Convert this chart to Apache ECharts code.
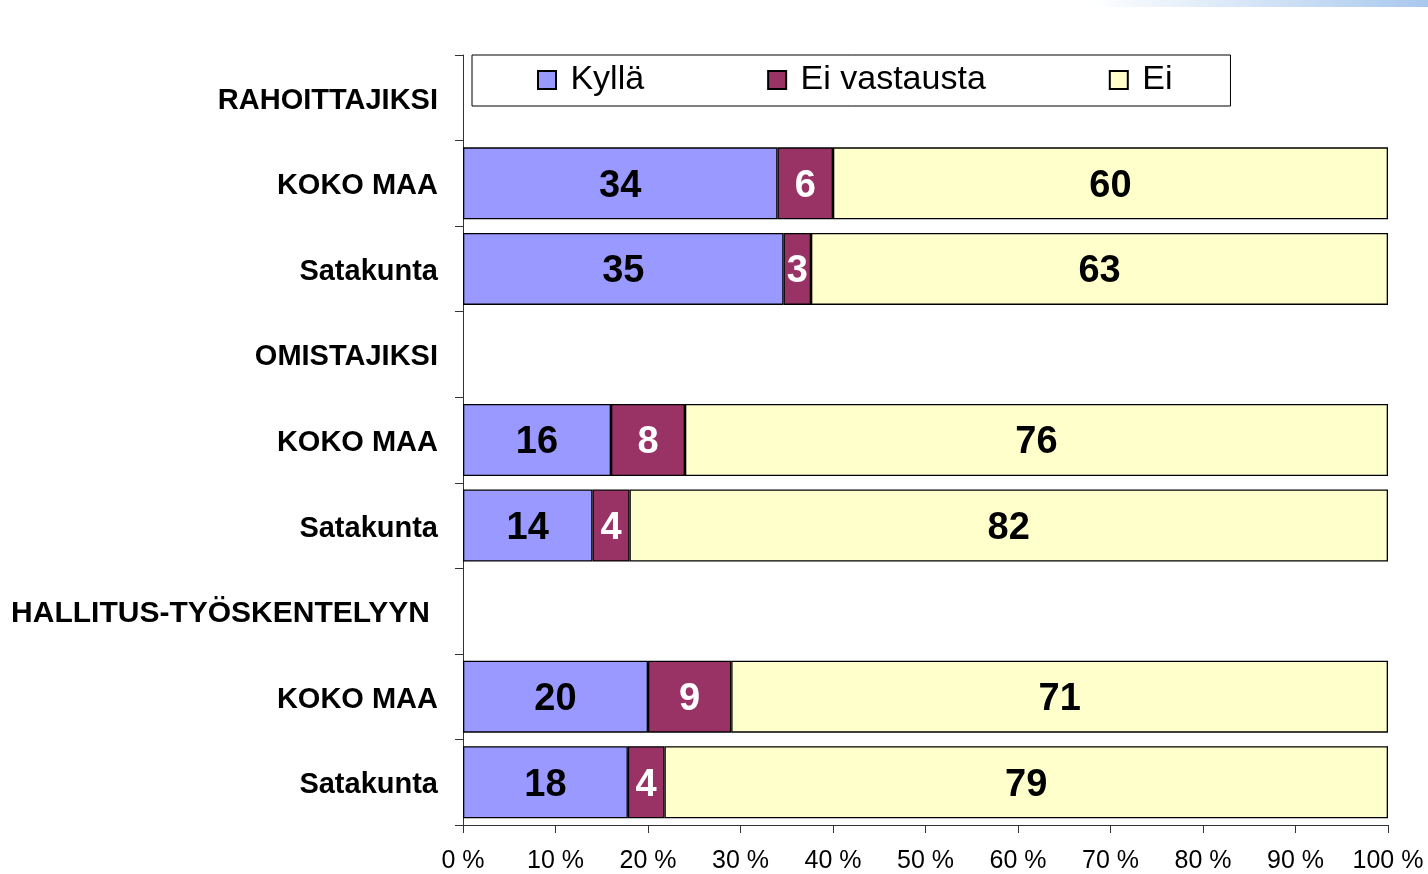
<!DOCTYPE html>
<html>
<head>
<meta charset="utf-8">
<script src="https://cdn.jsdelivr.net/npm/echarts@6/dist/echarts.min.js"></script>
<style>
  html, body { margin: 0; padding: 0; background: #fff; }
  #main { width: 1428px; height: 874px; }
</style>
</head>
<body>
<div id="main"></div>
<script>
// rows top to bottom, empty rows are group headers
var categories = ['RAHOITTAJIKSI', 'KOKO MAA', 'Satakunta', 'OMISTAJIKSI', 'KOKO MAA', 'Satakunta', 'HALLITUS-TYÖSKENTELYYN', 'KOKO MAA', 'Satakunta'];
var seriesNames = ['Kyllä', 'Ei vastausta', 'Ei'];
var kylla = [null, 34, 35, null, 16, 14, null, 20, 18];
var eiVastausta = [null, 6, 3, null, 8, 4, null, 9, 4];
var ei = [null, 60, 63, null, 76, 82, null, 71, 79];
var xTicks = [0, 10, 20, 30, 40, 50, 60, 70, 80, 90, 100];

var FONT = "'Liberation Sans', Arial, sans-serif";
var colors = ['#9999FF', '#993366', '#FFFFCC'];
var labelColors = ['#000', '#fff', '#000'];
var raw = [kylla, eiVastausta, ei];

// 100% stacked: each row scaled by its own total
function toPercent(list) {
    var out = [];
    for (var i = 0; i < list.length; i++) {
        if (list[i] == null) { out.push('-'); continue; }
        var total = kylla[i] + eiVastausta[i] + ei[i];
        out.push({ value: list[i] / total * 100, raw: list[i] });
    }
    return out;
}

var myChart = echarts.init(document.getElementById('main'));

var series = [];
for (var s = 0; s < seriesNames.length; s++) {
    series.push({
        name: seriesNames[s],
        type: 'bar',
        stack: 'all',
        barWidth: 72,
        data: toPercent(raw[s]),
        itemStyle: {
            color: colors[s],
            borderColor: '#000',
            borderWidth: 1.3
        },
        label: {
            show: true,
            position: 'inside',
            offset: [0, 3],
            fontFamily: FONT,
            fontSize: 38,
            fontWeight: 'bold',
            color: labelColors[s],
            formatter: function (p) { return p.data.raw; }
        },
        emphasis: { disabled: true }
    });
}

var option = {
    animation: false,
    backgroundColor: '#fff',
    textStyle: { fontFamily: FONT },
    graphic: [{
        type: 'rect',
        left: 1090,
        top: 0,
        shape: { width: 338, height: 7 },
        style: {
            fill: new echarts.graphic.LinearGradient(0, 0, 1, 0, [
                { offset: 0, color: '#ffffff' },
                { offset: 1, color: '#a8c8ee' }
            ])
        },
        silent: true
    }],
    legend: {
        left: 472,
        top: 55,
        padding: [8, 58, 9, 65],
        itemGap: 123,
        itemWidth: 18,
        itemHeight: 18,
        icon: 'rect',
        backgroundColor: '#fff',
        borderColor: '#000',
        borderWidth: 1,
        formatter: ' {name}',
        textStyle: { fontFamily: FONT, fontSize: 34, color: '#000' },
        data: seriesNames
    },
    grid: {
        left: 463,
        right: 40,
        top: 55,
        bottom: 49
    },
    xAxis: {
        type: 'value',
        min: 0,
        max: 100,
        interval: 10,
        axisLine: { show: true, lineStyle: { color: '#333' } },
        axisTick: { show: true, length: 8, lineStyle: { color: '#333' } },
        splitLine: { show: false },
        axisLabel: {
            margin: 24,
            fontFamily: FONT,
            fontSize: 25,
            color: '#000',
            formatter: function (v) { return xTicks.indexOf(v) >= 0 ? v + ' %' : ''; }
        }
    },
    yAxis: {
        type: 'category',
        inverse: true,
        data: categories.map(function (c, i) { return { value: i + '', label: c }; }),
        axisLine: { show: true, lineStyle: { color: '#333' } },
        axisTick: { show: true, length: 8, lineStyle: { color: '#333' } },
        axisLabel: {
            margin: 25,
            fontFamily: FONT,
            fontSize: 29,
            fontWeight: 'bold',
            color: '#000',
            padding: [6, 0, 0, 0],
            formatter: function (v) {
                var c = categories[+v];
                return c.length > 15 ? '{wide|' + c + '}' : c;
            },
            rich: {
                wide: {
                    fontFamily: FONT,
                    fontSize: 30,
                    fontWeight: 'bold',
                    color: '#000',
                    padding: [0, 8, 0, 0]
                }
            }
        }
    },
    series: series
};

myChart.setOption(option);
</script>
</body>
</html>
